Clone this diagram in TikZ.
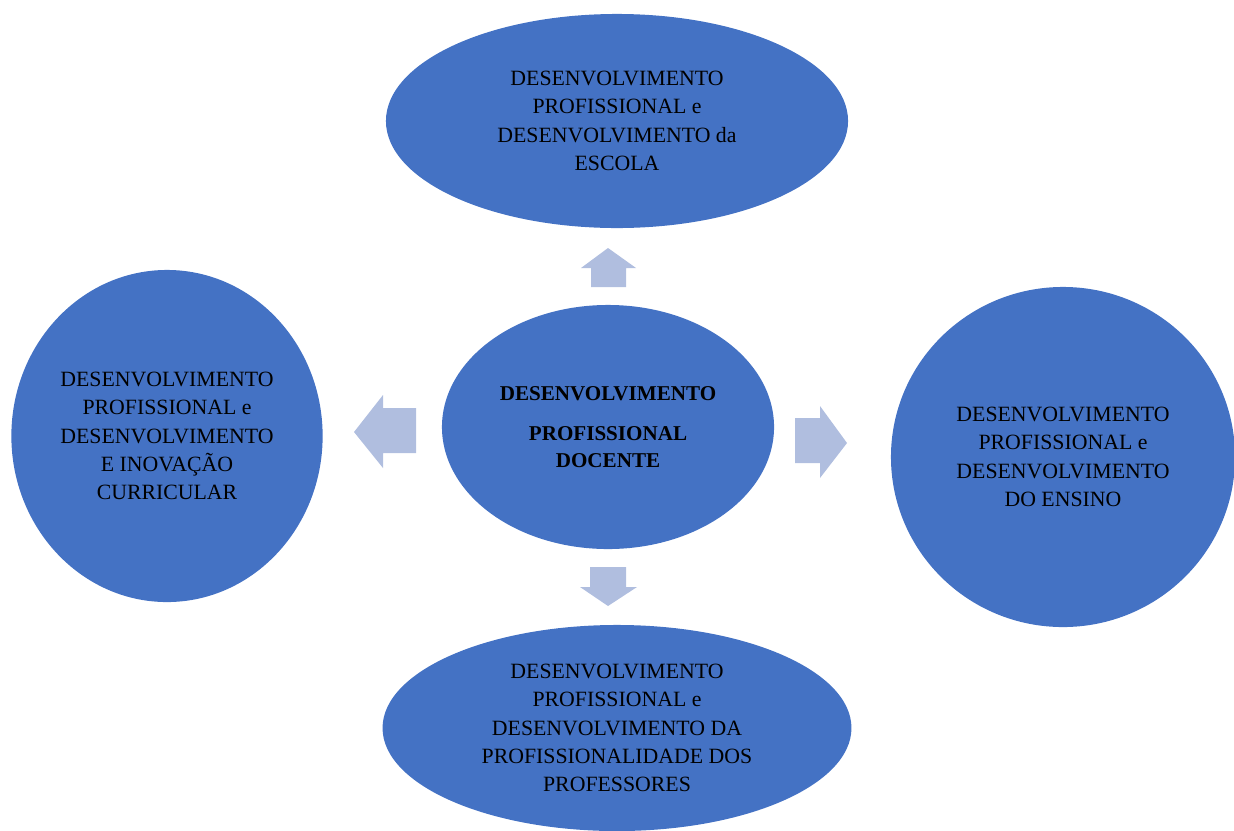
\documentclass[tikz,border=0pt]{standalone}
\usepackage{fontspec}
\setmainfont{Liberation Serif}
\usetikzlibrary{shapes.geometric}
\definecolor{blobblue}{RGB}{68,114,196}
\definecolor{palearrow}{RGB}{176,190,223}

\begin{document}
\begin{tikzpicture}[x=0.025cm,y=-0.025cm,
   blob/.style={ellipse,fill=blobblue,draw=none,inner sep=0pt,align=center,
                font=\fontsize{15.5}{20.2}\selectfont},
   arr/.style={fill=palearrow,draw=none}]
  \useasboundingbox (0,0) rectangle (1234,830);

  % ---- centre ----
  \node[blob,minimum width=8.3cm,minimum height=6.1cm,font=\fontsize{15}{19.1}\selectfont\bfseries]
    (core) at (608,427) {DESENVOLVIMENTO\\[9pt]PROFISSIONAL\\DOCENTE};

  % ---- outer ellipses ----
  \node[blob,minimum width=11.55cm,minimum height=5.35cm] (escola) at (617,121)
    {DESENVOLVIMENTO\\PROFISSIONAL e\\DESENVOLVIMENTO da\\ESCOLA};
  \node[blob,minimum width=7.78cm,minimum height=8.3cm] (curric) at (167,436)
    {DESENVOLVIMENTO\\PROFISSIONAL e\\DESENVOLVIMENTO\\E INOVAÇÃO\\CURRICULAR};
  \node[blob,minimum width=8.6cm,minimum height=8.5cm] (ensino) at (1063,457)
    {DESENVOLVIMENTO\\PROFISSIONAL e\\DESENVOLVIMENTO\\DO ENSINO};
  \node[blob,minimum width=11.72cm,minimum height=5.15cm] (profs) at (617,728)
    {DESENVOLVIMENTO\\PROFISSIONAL e\\DESENVOLVIMENTO DA\\PROFISSIONALIDADE DOS\\PROFESSORES};

  % ---- block arrows ----
  \fill[arr] (591,287) -- (591,268) -- (581,268) -- (608,248) -- (636,268) -- (626,268) -- (626,287) -- cycle;
  \fill[arr] (590,567) -- (590,587) -- (580,587) -- (608,606) -- (637,587) -- (626,587) -- (626,567) -- cycle;
  \fill[arr] (416,408) -- (383,408) -- (383,395) -- (354,432) -- (383,468) -- (383,453) -- (416,453) -- cycle;
  \fill[arr] (795,418) -- (820,418) -- (820,406) -- (847,443) -- (820,478) -- (820,463) -- (795,463) -- cycle;
\end{tikzpicture}
\end{document}
